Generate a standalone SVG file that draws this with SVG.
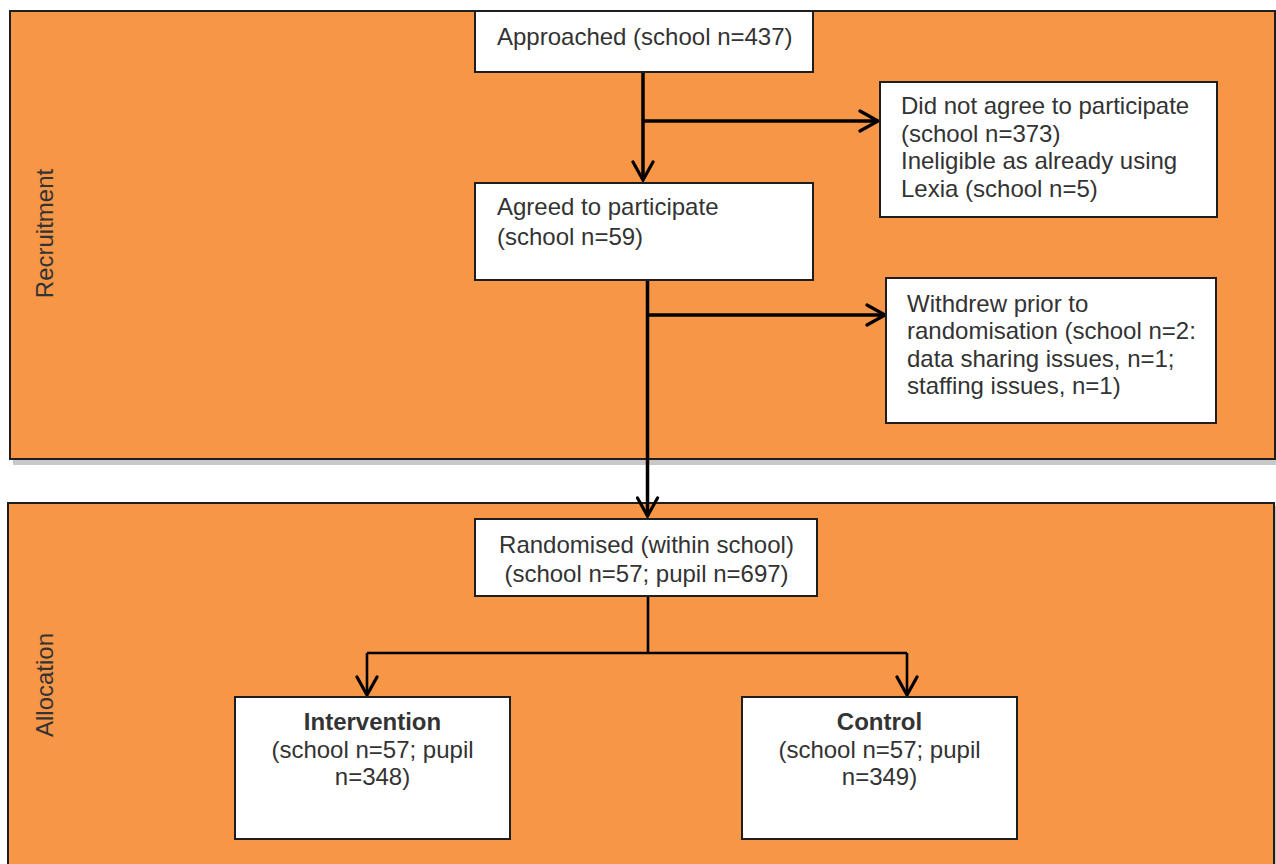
<svg xmlns="http://www.w3.org/2000/svg" width="1276" height="864" viewBox="0 0 1276 864">
<style>
.panel{fill:#F79646;stroke:#1e1e1e;stroke-width:2}
.shadow{fill:#c8c8c8}
.box{fill:#ffffff;stroke:#1e1e1e;stroke-width:2}
text{font-family:"Liberation Sans",Arial,sans-serif;font-size:24px;fill:#333333}
.c{text-anchor:middle}
.b{font-weight:bold}
.con{fill:none;stroke:#000000;stroke-width:3.5;stroke-linejoin:miter}
.con2{fill:none;stroke:#000000;stroke-width:2.6}
</style>
<defs>
<marker id="arr" markerUnits="userSpaceOnUse" markerWidth="24" markerHeight="24" viewBox="-22 -12 24 24" refX="0" refY="0" orient="auto">
<path d="M -18 -10 L 0 0 L -18 10" fill="none" stroke="#000" stroke-width="3.2" stroke-linecap="round" stroke-linejoin="miter"/>
</marker>
</defs>
<g id="panel-recruitment">
<rect class="shadow" x="13" y="458" width="1263" height="7"/>
<rect class="panel" x="10" y="11" width="1265" height="448"/>
<text transform="translate(53,233.5) rotate(-90)" class="c">Recruitment</text>
</g>
<g id="panel-allocation">
<rect class="shadow" x="1272" y="506" width="4" height="370"/>
<rect class="panel" x="8" y="503" width="1266" height="380"/>
<text transform="translate(52.5,685) rotate(-90)" class="c">Allocation</text>
</g>
<g id="connectors">
<path class="con" d="M 643 72 V 180" marker-end="url(#arr)"/>
<path class="con" d="M 643 121 H 878" marker-end="url(#arr)"/>
<path class="con" d="M 647.5 280 V 516" marker-end="url(#arr)"/>
<path class="con" d="M 647.5 315 H 885" marker-end="url(#arr)"/>
<path class="con2" d="M 648 596 V 653"/>
<path class="con2" d="M 367 653 H 907"/>
<path class="con2" d="M 367 653 V 695" marker-end="url(#arr)"/>
<path class="con2" d="M 907 653 V 695" marker-end="url(#arr)"/>
</g>
<g id="node-approached">
<rect class="box" x="475" y="11" width="338" height="61"/>
<text x="497" y="45">Approached (school n=437)</text>
</g>
<g id="node-not-agree">
<rect class="box" x="880" y="82" width="337" height="135"/>
<text x="901" y="114">Did not agree to participate</text>
<text x="901" y="141.6">(school n=373)</text>
<text x="901" y="169.2">Ineligible as already using</text>
<text x="901" y="196.8">Lexia (school n=5)</text>
</g>
<g id="node-agreed">
<rect class="box" x="475" y="183" width="338" height="97"/>
<text x="497" y="215">Agreed to participate</text>
<text x="497" y="244.5">(school n=59)</text>
</g>
<g id="node-withdrew">
<rect class="box" x="886" y="278" width="330" height="145"/>
<text x="907" y="311.5">Withdrew prior to</text>
<text x="907" y="339">randomisation (school n=2:</text>
<text x="907" y="366.5">data sharing issues, n=1;</text>
<text x="907" y="394">staffing issues, n=1)</text>
</g>
<g id="node-randomised">
<rect class="box" x="475" y="519" width="342" height="77"/>
<text x="646.5" y="552.7" class="c">Randomised (within school)</text>
<text x="646.5" y="581.7" class="c">(school n=57; pupil n=697)</text>
</g>
<g id="node-intervention">
<rect class="box" x="235" y="697" width="275" height="142"/>
<text x="372.5" y="730" class="c b">Intervention</text>
<text x="372.5" y="757.6" class="c">(school n=57; pupil</text>
<text x="372.5" y="785.2" class="c">n=348)</text>
</g>
<g id="node-control">
<rect class="box" x="742" y="697" width="275" height="142"/>
<text x="879.5" y="730" class="c b">Control</text>
<text x="879.5" y="757.6" class="c">(school n=57; pupil</text>
<text x="879.5" y="785.2" class="c">n=349)</text>
</g>
</svg>
